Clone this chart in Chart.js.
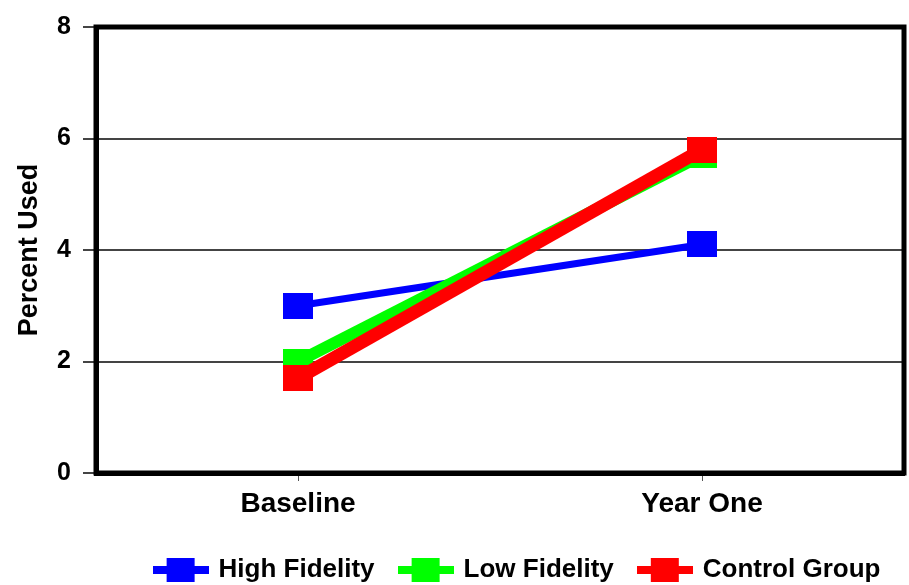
<!DOCTYPE html>
<html>
<head>
<meta charset="utf-8">
<script src="https://cdn.jsdelivr.net/npm/chart.js@4.4.1/dist/chart.umd.min.js"></script>
<style>
  html, body { margin: 0; padding: 0; background: #fff; }
  #wrap { width: 909px; height: 585px; }
</style>
</head>
<body>
<div id="wrap"><canvas id="chart" width="909" height="585"></canvas></div>
<script>
const categories = ['Baseline', 'Year One'];
const seriesNames = ['High Fidelity', 'Low Fidelity', 'Control Group'];
const highFidelity = [3.0, 4.1];
const lowFidelity = [2.0, 5.7];
const controlGroup = [1.7, 5.8];
const yTicks = [0, 2, 4, 6, 8];

const colors = ['#0000ff', '#00ff00', '#ff0000'];
const lineWidths = [7, 12, 13];
const FONT = '"Liberation Sans", Arial, sans-serif';

function makeMarker(color) {
    const c = document.createElement('canvas');
    c.width = 30; c.height = 26;
    const g = c.getContext('2d');
    g.fillStyle = color;
    g.fillRect(0, 0, 30, 26);
    return c;
}

function makeLegendIcon(color) {
    const c = document.createElement('canvas');
    c.width = 56; c.height = 24;
    const g = c.getContext('2d');
    g.fillStyle = color;
    g.fillRect(0, 8, 56, 8);
    g.fillRect(14, 0, 28, 24);
    return c;
}

// box round the plot area (top and right sides too)
const frame = {
    id: 'frame',
    beforeDatasetsDraw(chart) {
        const a = chart.chartArea;
        const ctx = chart.ctx;
        ctx.save();
        ctx.strokeStyle = '#000';
        ctx.lineWidth = 5;
        ctx.strokeRect(a.left, a.top, a.right - a.left, a.bottom - a.top);
        ctx.restore();
    }
};

// legend in the original sits right of centre and a bit lower
const legendShift = {
    id: 'legendShift',
    beforeDraw(chart) {
        const lg = chart.legend;
        if (lg && !lg._shifted) {
            lg.left += 66;
            lg.right += 66;
            lg.top += 8;
            lg.bottom += 8;
            lg._shifted = true;
        }
    }
};

const allData = [highFidelity, lowFidelity, controlGroup];
const datasets = allData.map((d, i) => ({
    label: seriesNames[i],
    data: d,
    borderColor: colors[i],
    backgroundColor: colors[i],
    borderWidth: lineWidths[i],
    pointStyle: makeMarker(colors[i]),
    pointRadius: 14,
    order: 3 - i,
    tension: 0
}));

new Chart(document.getElementById('chart'), {
    type: 'line',
    data: { labels: categories, datasets: datasets },
    options: {
        responsive: false,
        animation: false,
        devicePixelRatio: 1,
        layout: { autoPadding: false, padding: { top: 23, right: 5, left: 0, bottom: 0 } },
        plugins: {
            tooltip: { enabled: false },
            legend: {
                position: 'bottom',
                labels: {
                    usePointStyle: true,
                    pointStyleWidth: 50,
                    padding: 26,
                    color: '#000',
                    font: { family: FONT, size: 26, weight: 'bold' },
                    generateLabels: () => seriesNames.map((n, i) => ({
                        text: n,
                        pointStyle: makeLegendIcon(colors[i]),
                        fillStyle: colors[i],
                        strokeStyle: colors[i],
                        lineWidth: 0,
                        fontColor: '#000',
                        datasetIndex: i
                    }))
                }
            }
        },
        scales: {
            x: {
                offset: true,
                grid: { display: true, drawOnChartArea: false, offset: false, tickLength: 8, color: '#555', lineWidth: 1 },
                border: { display: true, color: '#000', width: 5 },
                ticks: { color: '#000', padding: 6, font: { family: FONT, size: 28, weight: 'bold' } },
                afterFit: (s) => { s.height = 50; }
            },
            y: {
                min: 0,
                max: 8,
                afterBuildTicks: (s) => { s.ticks = yTicks.map(v => ({ value: v })); },
                grid: { color: '#444', lineWidth: 2, tickLength: 13 },
                border: { display: true, color: '#000', width: 5 },
                ticks: { color: '#000', padding: 12, font: { family: FONT, size: 25, weight: 'bold' } },
                title: {
                    display: true,
                    text: 'Percent Used',
                    color: '#000',
                    padding: { top: 13, bottom: 0 },
                    font: { family: FONT, size: 27, weight: 'bold' }
                },
                afterFit: (s) => { s.width = 96; }
            }
        }
    },
    plugins: [frame, legendShift]
});
</script>
</body>
</html>
